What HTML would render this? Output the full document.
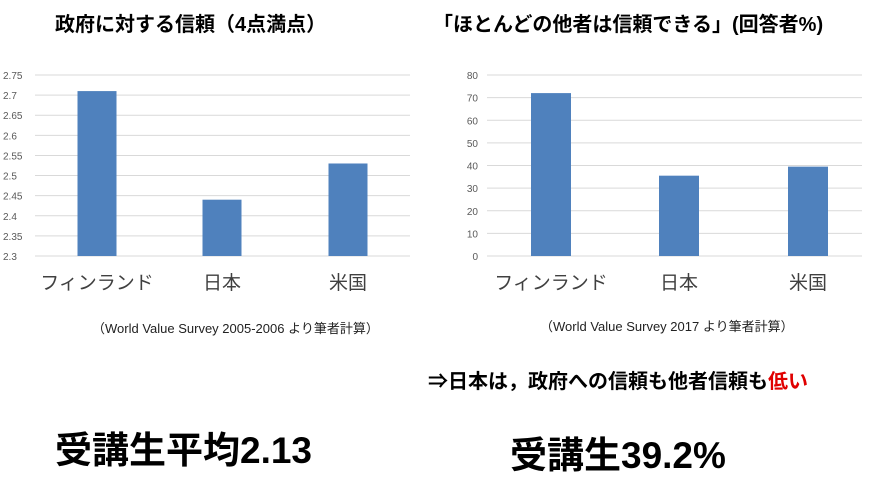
<!DOCTYPE html>
<html><head><meta charset="utf-8"><style>
body{margin:0;width:878px;height:477px;background:#fff;overflow:hidden;font-family:"Liberation Sans","Noto Sans CJK JP",sans-serif;position:relative}
.t{position:absolute;white-space:nowrap;color:#000}
</style></head><body>
<div class="t" style="left:55px;top:8px;font-size:20px;font-weight:bold">政府に対する信頼（4点満点）</div>
<div class="t" style="left:433px;top:8px;font-size:20px;font-weight:bold">「ほとんどの他者は信頼できる」(回答者%)</div>
<svg id="c" width="878" height="477" style="position:absolute;left:0;top:0"></svg>
<div class="t" style="left:92px;top:318px;font-size:13px;color:#222">（World Value Survey 2005-2006 より筆者計算）</div>
<div class="t" style="left:540px;top:316px;font-size:13px;color:#222">（World Value Survey 2017 より筆者計算）</div>
<div class="t" style="left:428px;top:365px;font-size:20px;font-weight:bold">⇒日本は，政府への信頼も他者信頼も<span style="color:#e00000">低い</span></div>
<div class="t" style="left:55px;top:420px;font-size:37px;font-weight:bold">受講生平均2.13</div>
<div class="t" style="left:510px;top:425px;font-size:37px;font-weight:bold">受講生39.2%</div>
<script>
const categories=["フィンランド","日本","米国"];
const govValues=[2.71,2.44,2.53];
const govTicks=[2.3,2.35,2.4,2.45,2.5,2.55,2.6,2.65,2.7,2.75];
const trustValues=[72,35.5,39.5];
const trustTicks=[0,10,20,30,40,50,60,70,80];
const svg=document.getElementById('c');const NS='http://www.w3.org/2000/svg';
function mk(tag,a){const e=document.createElementNS(NS,tag);for(const k in a)e.setAttribute(k,a[k]);svg.appendChild(e);return e;}
function chart(id,x0,x1,tickX,vals,ticks,centers,bw,dec){
  const min=ticks[0],max=ticks[ticks.length-1],yT=75,yB=256;
  const y=v=>yB-(v-min)/(max-min)*(yB-yT);
  ticks.forEach(t=>{
    const l=mk('line',{x1:x0,x2:x1,y1:y(t),y2:y(t),stroke:'#d9d9d9','stroke-width':1});
    
    const tx=mk('text',{x:tickX,y:y(t)+4,'font-size':10,fill:'#595959','text-anchor':dec?'start':'end'});
    tx.textContent=String(t);
    
  });
  vals.forEach((v,i)=>{
    const r=mk('rect',{x:centers[i]-bw/2,y:y(v),width:bw,height:yB-y(v),fill:'#4f81bd'});
    
    const tx=mk('text',{x:centers[i],y:289,'font-size':19,fill:'#404040','text-anchor':'middle'});
    tx.textContent=categories[i];
    
  });
}
chart('gov-chart',35,410,3,govValues,govTicks,[97,222,348],39,true);
chart('trust-chart',487,862,478,trustValues,trustTicks,[551,679,808],40,false);
</script>
</body></html>
